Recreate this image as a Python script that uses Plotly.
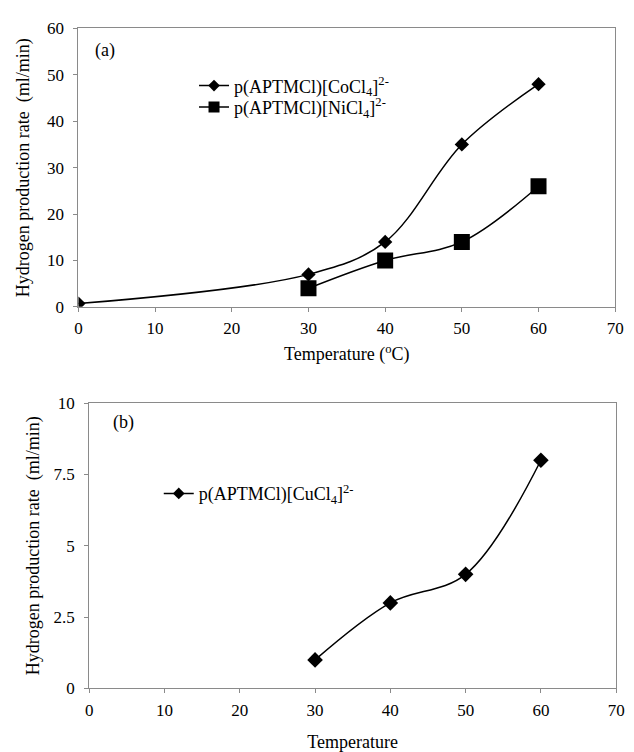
import plotly.graph_objects as go

# Panel (a)
temp_co = [0, 30, 40, 50, 60]
rate_co = [0.7, 7, 14, 35, 48]
temp_ni = [30, 40, 50, 60]
rate_ni = [4, 10, 14, 26]
# Panel (b)
temp_cu = [30, 40, 50, 60]
rate_cu = [1, 3, 4, 8]

xticks = [0, 10, 20, 30, 40, 50, 60, 70]
yticks_a = [0, 10, 20, 30, 40, 50, 60]
yticks_b = [0, 2.5, 5, 7.5, 10]
yticklabels_b = ["0", "2.5", "5", "7.5", "10"]

name_co = "p(APTMCl)[CoCl<sub>4</sub>]<sup>2-</sup>"
name_ni = "p(APTMCl)[NiCl<sub>4</sub>]<sup>2-</sup>"
name_cu = "p(APTMCl)[CuCl<sub>4</sub>]<sup>2-</sup>"

FONT = "Liberation Serif, Times New Roman, serif"
AX = "#8a8a8a"
line = dict(color="black", width=1.5, shape="spline")

fig = go.Figure()
fig.add_trace(go.Scatter(x=temp_co, y=rate_co, mode="lines+markers", line=line,
                         marker=dict(symbol="diamond", size=11, color="black"),
                         xaxis="x", yaxis="y", showlegend=False))
fig.add_trace(go.Scatter(x=temp_ni, y=rate_ni, mode="lines+markers", line=line,
                         marker=dict(symbol="square", size=16, color="black"),
                         xaxis="x", yaxis="y", showlegend=False))
fig.add_trace(go.Scatter(x=temp_cu, y=rate_cu, mode="lines+markers", line=line,
                         marker=dict(symbol="diamond", size=12, color="black"),
                         xaxis="x2", yaxis="y2", showlegend=False))
# legend entries
fig.add_trace(go.Scatter(x=[None], y=[None], mode="lines+markers", name=name_co,
                         line=dict(color="black", width=1.5),
                         marker=dict(symbol="diamond", size=9, color="black"),
                         xaxis="x", yaxis="y", legend="legend"))
fig.add_trace(go.Scatter(x=[None], y=[None], mode="lines+markers", name=name_ni,
                         line=dict(color="black", width=1.5),
                         marker=dict(symbol="square", size=11, color="black"),
                         xaxis="x", yaxis="y", legend="legend2"))
fig.add_trace(go.Scatter(x=[None], y=[None], mode="lines+markers", name=name_cu,
                         line=dict(color="black", width=1.5),
                         marker=dict(symbol="diamond", size=9, color="black"),
                         xaxis="x2", yaxis="y2", legend="legend3"))

W, H = 634, 752

def px(x):
    return x / W

def py(y):
    return 1 - y / H

axis_common = dict(showgrid=False, zeroline=False, showline=True, linecolor=AX, linewidth=1,
                   mirror=True, ticks="outside", ticklen=4, tickcolor=AX,
                   tickfont=dict(family=FONT, size=17, color="black"))
TF = dict(family=FONT, size=18, color="black")
leg_common = dict(xanchor="left", yanchor="middle", bgcolor="rgba(0,0,0,0)",
                  font=TF, itemwidth=30)

fig.update_layout(
    width=W, height=H,
    margin=dict(l=0, r=0, t=0, b=0),
    paper_bgcolor="white", plot_bgcolor="white",
    font=TF,
    xaxis=dict(domain=[px(76), px(624)], range=[0, 70], tickvals=xticks, anchor="y",
               ticklabelstandoff=2,
               title=dict(text="Temperature (<sup>o</sup>C)", font=TF, standoff=10),
               **axis_common),
    yaxis=dict(domain=[py(306), py(20)], range=[0, 60], tickvals=yticks_a, anchor="x",
               ticklabelstandoff=6,
               title=dict(text="Hydrogen production rate  (ml/min)", font=TF, standoff=12),
               **axis_common),
    xaxis2=dict(domain=[px(87), px(625)], range=[0, 70], tickvals=xticks, anchor="y2",
                ticklabelstandoff=2,
                title=dict(text="Temperature", font=TF, standoff=20),
                **axis_common),
    yaxis2=dict(domain=[py(698), py(405)], range=[0, 10], tickvals=yticks_b, ticktext=yticklabels_b,
                anchor="x2", ticklabelstandoff=6,
                title=dict(text="Hydrogen production rate  (ml/min)", font=TF, standoff=9),
                **axis_common),
    legend=dict(x=px(194), y=py(79), **leg_common),
    legend2=dict(x=px(194), y=py(101), **leg_common),
    legend3=dict(x=px(158), y=py(498), **leg_common),
    annotations=[
        dict(text="(a)", x=px(91), y=py(43), xref="paper", yref="paper", xanchor="left",
             yanchor="middle", showarrow=False, font=TF),
        dict(text="(b)", x=px(109), y=py(425), xref="paper", yref="paper", xanchor="left",
             yanchor="middle", showarrow=False, font=TF),
    ],
)

fig.write_html("out.html")
